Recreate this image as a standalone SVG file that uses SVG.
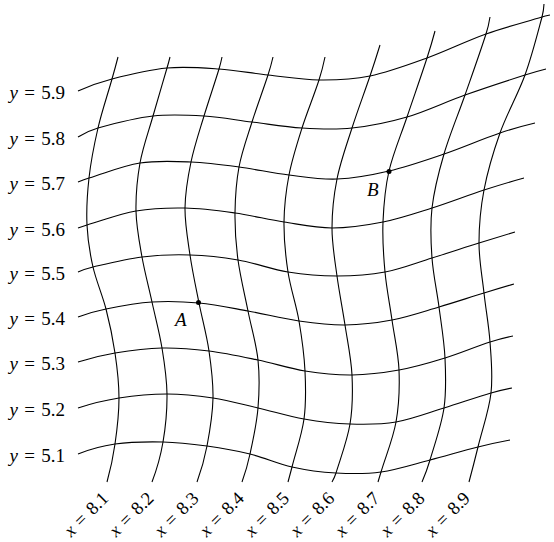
<svg xmlns="http://www.w3.org/2000/svg" width="554" height="542" viewBox="0 0 554 542">
<style>
.c{fill:none;stroke:#000;stroke-width:1.1}
text{font-family:"Liberation Serif","Times New Roman",serif;font-size:19px;fill:#000}
.lab{word-spacing:1.6px}
.xl{font-size:18.5px}
.it{font-style:italic}
</style>
<rect width="554" height="542" fill="#fff"/>
<g id="connectors">
<g id="x-lines">
<path class="c" d="M107,482 C110.5,469.4 113.2,456.8 115,444 C117.2,428.8 119,413.2 119,398 S117.2,367.8 115,353 S109.7,323.3 106,309 S96.2,281 93,267 S87.7,239.8 87,225 S87.2,194.2 89,178 S94.2,144.5 98,128 S107.4,95.4 112,79 C114.1,71.7 116.1,64.4 118,57"/>
<path class="c" d="M152,482 C157,468.9 160.7,455.6 163,442 C165.7,426.3 167.2,409.7 167,394 S164.5,363.3 162,348 S155.3,317.2 152,302 S144.7,272.2 142,257 S136.3,226.7 136,211 S137.2,178.8 140,163 S148.5,131.8 153,116 S162.4,84 167,68 C168.1,64.3 169.1,60.7 170,57"/>
<path class="c" d="M197,482 C201.3,470.2 204.7,458.2 207,446 C210,430.2 212.7,413.8 213,398 S211.3,366.8 209,351 S202.2,319 199,303 S192.3,270.8 190,255 S184.8,223.5 185,208 S187.8,177.3 191,162 S199.3,131.5 204,116 S214.2,84.7 219,69 C220.2,65 221.2,61 222,57"/>
<path class="c" d="M242,482 C245.3,472.8 248,463.5 250,454 C253.3,438.8 256.7,423.7 258,408 S259.7,376.2 258,360 S251.3,327.7 248,311 S240.2,276.3 238,260 S234.8,228.5 235,213 S236.2,182.2 239,167 S247.2,137.3 252,122 S262.9,90.7 268,75 C269.9,69.1 271.6,63.1 273,57"/>
<path class="c" d="M288,482 C289.4,477 290.7,472 292,467 C296.1,451 301.8,435 304,419 S305.8,387.3 305,371 S301.8,337.5 299,321 S290.5,288.5 288,272 S283.8,238.2 284,222 S286,190.7 289,175 S297,143.8 302,128 S313.8,96.1 319,80 C321.4,72.5 323.4,64.8 325,57"/>
<path class="c" d="M332,482 C333.7,479.1 335,476.1 336,473 C341,456.8 347.3,440.3 350,424 S352.8,391.5 352,375 S347.5,341.5 345,325 S339.2,292.2 337,276 S332,244.2 332,228 S333.7,195.7 337,179 S346.5,145.2 352,128 S364.1,93.4 370,76 C373.5,65.7 376.8,55.4 380,45"/>
<path class="c" d="M378,482 C379,478.7 380,475.3 381,472 C386,455.3 393,439 396,422 S399.7,387 399,370 S394.3,336.3 392,320 S386.5,288.3 385,272 S382.3,238.8 383,222 S385,188.5 389,171 S400.7,135.8 407,117 S420.6,77.7 427,58 C429.9,49.1 432.6,40.1 435,31"/>
<path class="c" d="M422,482 C425.1,474.8 427.8,467.5 430,460 C435.1,442.8 441.5,425 444,408 S445.8,374.8 445,358 S441.2,323.7 439,307 S433.2,274.5 432,258 S430,225.3 432,208 S438.5,172.8 444,154 S458,115 465,95 S479.4,54.5 486,34 C487.8,28.5 489.1,22.8 490,17"/>
<path class="c" d="M469,482 C472.1,470.4 475.1,458.7 478,447 C482.4,429 489,410.5 491,393 S491.2,358.7 490,342 S485.8,309.5 484,293 S479,260.2 479,243 S480.5,208.3 484,190 S493.2,152.2 500,133 S518,94.3 525,75 S536.8,36.4 542,17 C543.1,12.8 543.8,8.4 544,4"/>
</g>
<g id="y-lines">
<path class="c" d="M78,454 C90.1,449.1 102.4,445.8 115,444 C130.8,441.8 147.7,441.7 163,442 S192.5,444 207,446 S235.8,450.5 250,454 S277.7,463.8 292,467 S321.2,472.2 336,473 S365.3,474.2 381,472 S413.8,464.2 430,460 S462,451 478,447 C488.6,444.3 499.3,442 510,440"/>
<path class="c" d="M78,408 C91.5,403.5 105.2,400.2 119,398 C134.8,395.5 151.3,394 167,394 S197.8,395.7 213,398 S242.8,404.5 258,408 S288.7,416.3 304,419 S334.7,423.5 350,424 S380.3,424.7 396,422 S428.2,412.8 444,408 S475.3,397.6 491,393 C497.9,391 504.9,389.3 512,388"/>
<path class="c" d="M78,362 C90.2,358.1 102.5,355.1 115,353 C130.5,350.4 146.3,348.3 162,348 S193,349 209,351 S242,356.7 258,360 S289.3,368.5 305,371 S336.3,375.2 352,375 S383.5,372.8 399,370 S429.8,362.7 445,358 S474.9,346.9 490,342 C497.5,339.6 505.2,337.6 513,336"/>
<path class="c" d="M78,317 C87.2,313.6 96.5,310.9 106,309 C121.2,305.9 136.5,303 152,302 S183,301.5 199,303 S231.3,308 248,311 S282.8,318.7 299,321 S329.5,325.2 345,325 S376.3,323 392,320 S423.7,311.5 439,307 S469,297.6 484,293 C494,289.9 504,286.9 514,284"/>
<path class="c" d="M78,272 C82.9,269.9 87.9,268.2 93,267 C109.2,263.2 125.8,259 142,257 S174,254.5 190,255 S221.7,257.2 238,260 S271.5,269.3 288,272 S320.8,276 337,276 S369.2,275 385,272 S416.3,262.8 432,258 S463.3,247.9 479,243 C491,239.3 503,235.6 515,232"/>
<path class="c" d="M78,228 C81,226.9 84,225.9 87,225 C103.3,220.2 119.7,213.8 136,211 S168.5,207.7 185,208 S218.5,210.7 235,213 S267.8,219.5 284,222 S315.5,228 332,228 S366.3,225.3 383,222 S415.2,213.3 432,208 S466.6,195.7 484,190 C497.3,185.7 510.6,181.7 524,178"/>
<path class="c" d="M78,182 C81.6,180.5 85.3,179.1 89,178 C106,172.8 123,165.7 140,163 S174.5,161.3 191,162 S222.7,164.8 239,167 S272.7,173 289,175 S320.3,179.7 337,179 S371.2,175.2 389,171 S425.5,160.3 444,154 S481.1,139.4 500,133 C511.5,129.1 523.1,125.8 535,123"/>
<path class="c" d="M78,137 C84.3,133 91,130 98,128 C116,123 135.3,118 153,116 S187.5,115 204,116 S235.7,120 252,122 S285.3,127 302,128 S334.5,129.8 352,128 S388.2,122.5 407,117 S445.3,102 465,95 S504.9,81.4 525,75 C531.9,72.8 538.9,70.8 546,69"/>
<path class="c" d="M78,91 C89,86 100.4,82 112,79 C130,74.3 149.2,69.7 167,68 S202.2,67.8 219,69 S251.3,73.2 268,75 S302,79.8 319,80 S352,79.7 370,76 S407.7,65 427,58 S466.8,40.8 486,34 S523.3,22.6 542,17 C544.6,16.2 547.3,15.6 550,15"/>
</g>
</g>
<g id="y-labels">
<text class="lab" x="9.5" y="99"><tspan class="it">y</tspan> = 5.9</text>
<text class="lab" x="9.5" y="145"><tspan class="it">y</tspan> = 5.8</text>
<text class="lab" x="9.5" y="190"><tspan class="it">y</tspan> = 5.7</text>
<text class="lab" x="9.5" y="236"><tspan class="it">y</tspan> = 5.6</text>
<text class="lab" x="9.5" y="280"><tspan class="it">y</tspan> = 5.5</text>
<text class="lab" x="9.5" y="325"><tspan class="it">y</tspan> = 5.4</text>
<text class="lab" x="9.5" y="370"><tspan class="it">y</tspan> = 5.3</text>
<text class="lab" x="9.5" y="416"><tspan class="it">y</tspan> = 5.2</text>
<text class="lab" x="9.5" y="462"><tspan class="it">y</tspan> = 5.1</text>
</g>
<g id="x-labels" text-anchor="end">
<text class="lab xl" transform="translate(109.5,499.5) rotate(-45)"><tspan class="it">x</tspan> = 8.1</text>
<text class="lab xl" transform="translate(154.7,499.5) rotate(-45)"><tspan class="it">x</tspan> = 8.2</text>
<text class="lab xl" transform="translate(199.9,499.5) rotate(-45)"><tspan class="it">x</tspan> = 8.3</text>
<text class="lab xl" transform="translate(245.1,499.5) rotate(-45)"><tspan class="it">x</tspan> = 8.4</text>
<text class="lab xl" transform="translate(290.3,499.5) rotate(-45)"><tspan class="it">x</tspan> = 8.5</text>
<text class="lab xl" transform="translate(335.5,499.5) rotate(-45)"><tspan class="it">x</tspan> = 8.6</text>
<text class="lab xl" transform="translate(380.7,499.5) rotate(-45)"><tspan class="it">x</tspan> = 8.7</text>
<text class="lab xl" transform="translate(425.9,499.5) rotate(-45)"><tspan class="it">x</tspan> = 8.8</text>
<text class="lab xl" transform="translate(471.1,499.5) rotate(-45)"><tspan class="it">x</tspan> = 8.9</text>
</g>
<g id="point-A">
<circle cx="198.5" cy="302.5" r="2.5"/>
<text class="it" x="175" y="326">A</text>
</g>
<g id="point-B">
<circle cx="389" cy="171.5" r="2.5"/>
<text class="it" x="367" y="196">B</text>
</g>
</svg>
